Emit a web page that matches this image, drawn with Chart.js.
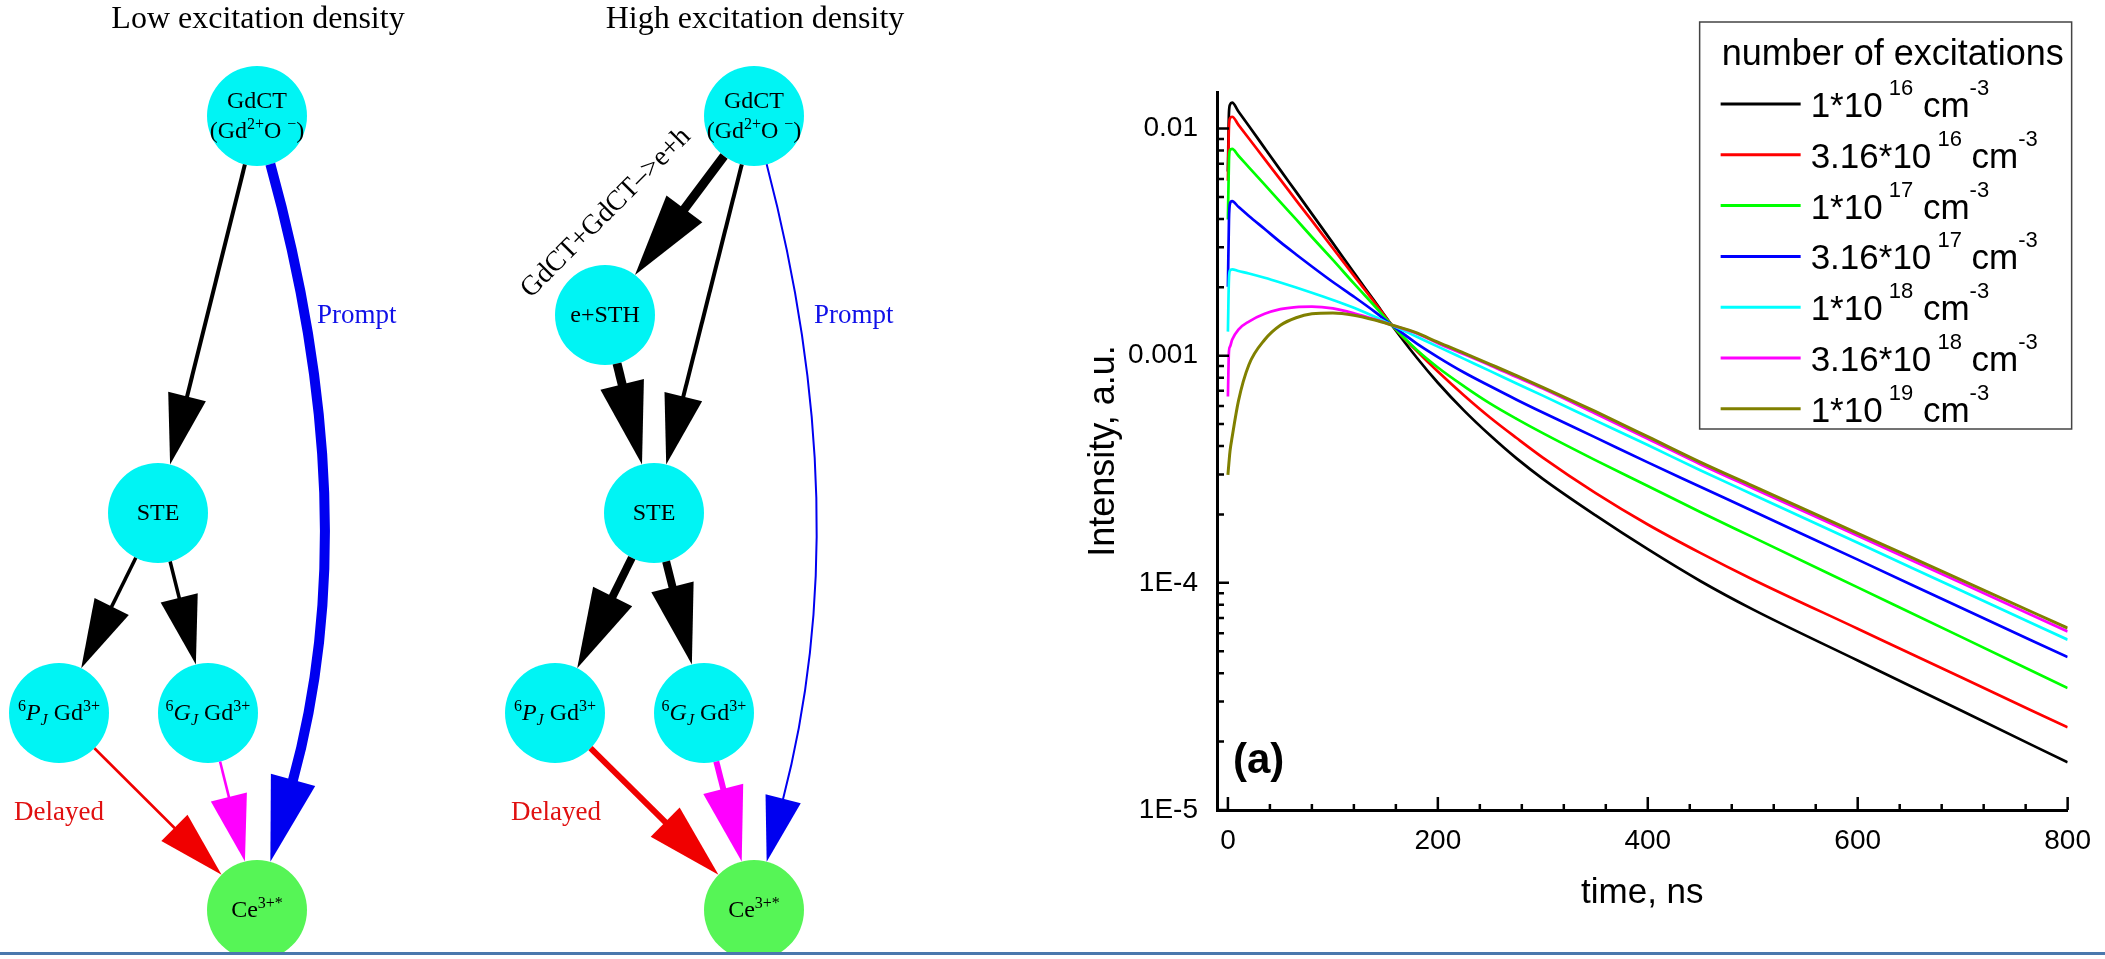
<!DOCTYPE HTML>
<html lang="en">
<head>
  <meta http-equiv="content-type" content="text/html; charset=UTF-8">
  <script src="https://cdn.jsdelivr.net/npm/chart.js"></script>
  <style>
    body { margin: 0; background: #fff; }
    #page { position: relative; width: 2105px; height: 959px; overflow: hidden; background: #fff; }
    #scheme { position: absolute; left: 0; top: 0; }
    #decay { position: absolute; left: 1060px; top: 0; }
    #rule { position: absolute; left: 0; top: 952px; width: 2105px; height: 3px; background: #4a78ad; }
  </style>
</head>

<body>
  <div id="page">
    <canvas id="scheme" width="1060" height="952"></canvas>
    <canvas id="decay" width="1045" height="959"></canvas>
    <div id="rule"></div>
  </div>

  <script>
    // ---------- Decay curves ----------

    const timeNs = [0, 1, 2, 4, 10, 20, 35, 50, 65, 80, 100, 120, 140, 156, 180, 200, 225, 250, 275, 300, 350, 400, 450, 500, 600, 700, 800];

    const i1e16   = [6.46e-3, 1.175e-2, 1.274e-2, 1.300e-2, 1.189e-2, 1.026e-2, 8.20e-3, 6.56e-3, 5.26e-3, 4.21e-3, 3.13e-3, 2.32e-3, 1.73e-3, 1.365e-3, 9.79e-4, 7.60e-4, 5.73e-4, 4.45e-4, 3.53e-4, 2.87e-4, 1.986e-4, 1.406e-4, 1.019e-4, 7.64e-5, 4.55e-5, 2.72e-5, 1.62e-5];
    const i316e16 = [5.89e-3, 1.023e-2, 1.109e-2, 1.127e-2, 1.038e-2, 9.04e-3, 7.33e-3, 5.96e-3, 4.83e-3, 3.93e-3, 2.97e-3, 2.25e-3, 1.71e-3, 1.365e-3, 1.047e-3, 8.51e-4, 6.68e-4, 5.33e-4, 4.34e-4, 3.56e-4, 2.49e-4, 1.807e-4, 1.355e-4, 1.035e-4, 6.28e-5, 3.81e-5, 2.31e-5];
    const i1e17   = [3.98e-3, 7.24e-3, 8.04e-3, 8.13e-3, 7.59e-3, 6.75e-3, 5.66e-3, 4.74e-3, 3.98e-3, 3.33e-3, 2.64e-3, 2.08e-3, 1.65e-3, 1.365e-3, 1.059e-3, 8.87e-4, 7.33e-4, 6.15e-4, 5.27e-4, 4.56e-4, 3.47e-4, 2.67e-4, 2.05e-4, 1.589e-4, 9.55e-5, 5.74e-5, 3.44e-5];
    const i316e17 = [2.01e-3, 3.98e-3, 4.68e-3, 4.79e-3, 4.52e-3, 4.12e-3, 3.61e-3, 3.16e-3, 2.79e-3, 2.47e-3, 2.11e-3, 1.82e-3, 1.56e-3, 1.365e-3, 1.130e-3, 9.86e-4, 8.43e-4, 7.33e-4, 6.40e-4, 5.62e-4, 4.37e-4, 3.39e-4, 2.65e-4, 2.07e-4, 1.265e-4, 7.71e-5, 4.71e-5];
    const i1e18   = [1.276e-3, 2.188e-3, 2.371e-3, 2.399e-3, 2.360e-3, 2.301e-3, 2.203e-3, 2.099e-3, 1.995e-3, 1.892e-3, 1.758e-3, 1.626e-3, 1.483e-3, 1.365e-3, 1.211e-3, 1.096e-3, 9.68e-4, 8.55e-4, 7.55e-4, 6.67e-4, 5.19e-4, 4.04e-4, 3.13e-4, 2.45e-4, 1.50e-4, 9.18e-5, 5.62e-5];
    const i316e18 = [6.61e-4, 1.047e-3, 1.096e-3, 1.175e-3, 1.303e-3, 1.413e-3, 1.528e-3, 1.603e-3, 1.637e-3, 1.644e-3, 1.614e-3, 1.538e-3, 1.445e-3, 1.365e-3, 1.253e-3, 1.135e-3, 1.014e-3, 9.06e-4, 8.05e-4, 7.16e-4, 5.56e-4, 4.31e-4, 3.33e-4, 2.61e-4, 1.611e-4, 9.93e-5, 6.11e-5];
    const i1e19   = [2.99e-4, 3.39e-4, 3.80e-4, 4.37e-4, 6.31e-4, 9.12e-4, 1.175e-3, 1.361e-3, 1.469e-3, 1.528e-3, 1.542e-3, 1.507e-3, 1.435e-3, 1.365e-3, 1.259e-3, 1.146e-3, 1.026e-3, 9.16e-4, 8.17e-4, 7.26e-4, 5.68e-4, 4.40e-4, 3.40e-4, 2.67e-4, 1.652e-4, 1.023e-4, 6.32e-5];

    const seriesValues = [i1e16, i316e16, i1e17, i316e17, i1e18, i316e18, i1e19];
    const seriesMantissa = ['1', '3.16', '1', '3.16', '1', '3.16', '1'];
    const seriesExponent = ['16', '16', '17', '17', '18', '18', '19'];
    const legendTitle = 'number of excitations';

    const xTickValues = [0, 200, 400, 600, 800];
    const yTickValues = [1e-5, 1e-4, 1e-3, 1e-2];
    const yTickLabels = ['1E-5', '1E-4', '0.001', '0.01'];

    // ---------- Scheme (nodes in px of a 1060 x 952 board) ----------

    const lowNodeIds = ['gdct', 'ste', 'pj', 'gj', 'ce'];
    const lowNodeX   = [257, 158, 59, 208, 257];
    const lowNodeY   = [116, 513, 713, 713, 910];
    const lowEdgeFrom  = ['gdct', 'gdct', 'ste', 'ste', 'pj', 'gj'];
    const lowEdgeTo    = ['ste', 'ce', 'pj', 'gj', 'ce', 'ce'];
    const lowEdgeWidth = [4, 10, 3.5, 3.5, 2.6, 2.6];

    const highNodeIds = ['gdct', 'sth', 'ste', 'pj', 'gj', 'ce'];
    const highNodeX   = [754, 605, 654, 555, 704, 754];
    const highNodeY   = [116, 315, 513, 713, 713, 910];
    const highEdgeFrom  = ['gdct', 'gdct', 'gdct', 'sth', 'ste', 'ste', 'pj', 'gj'];
    const highEdgeTo    = ['sth', 'ste', 'ce', 'ste', 'pj', 'gj', 'ce', 'ce'];
    const highEdgeWidth = [9, 4, 2, 9, 8, 8, 6, 6];

    const schemeTitles = ['Low excitation density', 'High excitation density'];
    const nodeLabels = {
      gdct: [[['GdCT', 'n']], [['(Gd', 'n'], ['2+', 'sup'], ['O ', 'n'], ['\u2212', 'sup'], [')', 'n']]],
      ste:  [[['STE', 'n']]],
      sth:  [[['e+STH', 'n']]],
      pj:   [[['6', 'sup'], ['P', 'i'], ['J', 'isub'], [' Gd', 'n'], ['3+', 'sup']]],
      gj:   [[['6', 'sup'], ['G', 'i'], ['J', 'isub'], [' Gd', 'n'], ['3+', 'sup']]],
      ce:   [[['Ce', 'n'], ['3+*', 'sup']]],
    };
    const edgeLabelText = ['Prompt', 'Delayed', 'Prompt', 'Delayed', 'GdCT+GdCT\u2013>e+h'];

    // ---------- Styles ----------

    const SANS = 'Liberation Sans';
    const SERIF = 'Liberation Serif';
    const seriesColors = ['#000000', '#ff0000', '#00ff00', '#0000ff', '#00ffff', '#ff00ff', '#808000'];

    const NODE_R = 50;
    const NODE_CYAN = '#00f4f4';
    const CE_GREEN = '#56f556';
    const lowEdgeColor = ['#000', '#0000f0', '#000', '#000', '#f00000', '#ff00ff'];
    const lowEdgeBend = [0, 110, 0, 0, 0, 0];
    const highEdgeColor = ['#000', '#000', '#0000f0', '#000', '#000', '#000', '#f00000', '#ff00ff'];
    const highEdgeBend = [0, 0, 104, 0, 0, 0, 0, 0];
    // x, baseline, align, rotation(deg), colour, font size
    const edgeLabelPlace = [
      [317, 323, 'left', 0, '#1010e8', 27],
      [14, 820, 'left', 0, '#e01010', 27],
      [814, 323, 'left', 0, '#1010e8', 27],
      [511, 820, 'left', 0, '#e01010', 27],
      [606, 213, 'center', -45, '#000', 28],
    ];

    // ---------- helpers ----------

    function drawRich(ctx, parts, x, baseline, size, family, align, color, sup) {
      const s = sup || { scale: 0.66, rise: 0.38, drop: 0.22 };
      const fontOf = st => {
        const small = st === 'sup' || st === 'isub';
        const px = small ? Math.round(size * s.scale) : size;
        return (st === 'i' || st === 'isub' ? 'italic ' : '') + px + 'px "' + family + '"';
      };
      let total = 0;
      const widths = parts.map(([t, st]) => { ctx.font = fontOf(st); const w = ctx.measureText(t).width; total += w; return w; });
      let cx = align === 'center' ? x - total / 2 : x;
      ctx.fillStyle = color;
      ctx.textAlign = 'left';
      ctx.textBaseline = 'alphabetic';
      parts.forEach(([t, st], k) => {
        ctx.font = fontOf(st);
        const dy = st === 'sup' ? -size * s.rise : st === 'isub' ? size * s.drop : 0;
        ctx.fillText(t, cx, baseline + dy);
        cx += widths[k];
      });
    }

    function toward(p, q, r) {
      const d = Math.hypot(q.x - p.x, q.y - p.y);
      return { x: p.x + (q.x - p.x) / d * r, y: p.y + (q.y - p.y) / d * r };
    }

    function drawArrow(ctx, a, b, w, color, bend) {
      const L = 60 + 2.5 * w, W = 34 + 1.2 * w;
      let ctrl = null, s, e;
      if (bend) {
        const dx = b.x - a.x, dy = b.y - a.y, len = Math.hypot(dx, dy);
        ctrl = { x: (a.x + b.x) / 2 + dy / len * bend, y: (a.y + b.y) / 2 - dx / len * bend };
        s = toward(a, ctrl, NODE_R);
        e = toward(b, ctrl, NODE_R);
      } else {
        s = toward(a, b, NODE_R);
        e = toward(b, a, NODE_R);
      }
      const ref = ctrl || s;
      const hl = Math.hypot(e.x - ref.x, e.y - ref.y);
      const ux = (e.x - ref.x) / hl, uy = (e.y - ref.y) / hl;
      const bx = e.x - ux * L, by = e.y - uy * L;
      ctx.save();
      ctx.strokeStyle = color;
      ctx.fillStyle = color;
      ctx.lineWidth = w;
      ctx.beginPath();
      ctx.moveTo(s.x, s.y);
      if (ctrl) ctx.quadraticCurveTo(ctrl.x, ctrl.y, bx + ux * 2, by + uy * 2);
      else ctx.lineTo(bx + ux * 2, by + uy * 2);
      ctx.stroke();
      ctx.beginPath();
      ctx.moveTo(e.x, e.y);
      ctx.lineTo(bx - uy * W / 2, by + ux * W / 2);
      ctx.lineTo(bx + uy * W / 2, by - ux * W / 2);
      ctx.closePath();
      ctx.fill();
      ctx.restore();
    }

    // ---------- scheme chart ----------

    const graphs = [
      { ids: lowNodeIds, from: lowEdgeFrom, to: lowEdgeTo, width: lowEdgeWidth, color: lowEdgeColor, bend: lowEdgeBend },
      { ids: highNodeIds, from: highEdgeFrom, to: highEdgeTo, width: highEdgeWidth, color: highEdgeColor, bend: highEdgeBend },
    ];

    const schemePlugin = {
      id: 'scheme',
      afterDatasetsDraw(chart) {
        const ctx = chart.ctx;
        const xs = chart.scales.x, ys = chart.scales.y;
        graphs.forEach((g, gi) => {
          const meta = chart.getDatasetMeta(gi);
          const pos = {};
          g.ids.forEach((id, i) => { pos[id] = { x: meta.data[i].x, y: meta.data[i].y }; });
          g.from.forEach((f, k) => drawArrow(ctx, pos[f], pos[g.to[k]], g.width[k], g.color[k], g.bend[k]));
          g.ids.forEach(id => {
            const lines = nodeLabels[id];
            lines.forEach((parts, k) => {
              const base = pos[id].y + 7 + (k - (lines.length - 1) / 2) * 30;
              drawRich(ctx, parts, pos[id].x, base, 24, SERIF, 'center', '#000');
            });
          });
          // panel title above the top node
          ctx.save();
          ctx.fillStyle = '#000';
          ctx.font = '32px "' + SERIF + '"';
          ctx.textAlign = 'center';
          ctx.textBaseline = 'alphabetic';
          ctx.fillText(schemeTitles[gi], pos.gdct.x + 1, ys.getPixelForValue(28));
          ctx.restore();
        });
        edgeLabelText.forEach((t, i) => {
          const [x, y, align, rot, color, size] = edgeLabelPlace[i];
          ctx.save();
          ctx.translate(xs.getPixelForValue(x), ys.getPixelForValue(y));
          ctx.rotate(rot * Math.PI / 180);
          ctx.fillStyle = color;
          ctx.font = size + 'px "' + SERIF + '"';
          ctx.textAlign = align;
          ctx.textBaseline = rot ? 'middle' : 'alphabetic';
          ctx.fillText(t, 0, 0);
          ctx.restore();
        });
      }
    };

    function nodeDataset(ids, xs, ys) {
      return {
        data: ids.map((id, i) => ({ x: xs[i], y: ys[i] })),
        pointRadius: NODE_R,
        pointHoverRadius: NODE_R,
        pointBorderWidth: 0,
        pointBorderColor: 'rgba(0,0,0,0)',
        pointBackgroundColor: ids.map(id => id === 'ce' ? CE_GREEN : NODE_CYAN),
        clip: false,
      };
    }

    new Chart(document.getElementById('scheme'), {
      type: 'scatter',
      data: {
        datasets: [
          nodeDataset(lowNodeIds, lowNodeX, lowNodeY),
          nodeDataset(highNodeIds, highNodeX, highNodeY),
        ],
      },
      options: {
        responsive: false,
        animation: false,
        devicePixelRatio: 1,
        events: [],
        layout: { padding: 0, autoPadding: false },
        plugins: { legend: { display: false }, tooltip: { enabled: false } },
        scales: {
          x: { type: 'linear', min: 0, max: 1060, display: false },
          y: { type: 'linear', min: 0, max: 952, reverse: true, display: false },
        },
      },
      plugins: [schemePlugin],
    });

    // ---------- decay chart ----------

    const innerTicks = {
      id: 'innerTicks',
      afterDatasetsDraw(chart) {
        const { ctx, chartArea: a, scales: { x, y } } = chart;
        ctx.save();
        ctx.strokeStyle = '#000';
        ctx.lineWidth = 2.5;
        ctx.beginPath();
        for (let t = 0; t <= x.max; t += 40) {
          const px = x.getPixelForValue(t);
          const len = xTickValues.includes(t) ? 13 : 6;
          ctx.moveTo(px, a.bottom);
          ctx.lineTo(px, a.bottom - len);
        }
        for (let e = -5; e <= -2; e++) {
          for (let m = 1; m < 10; m++) {
            const v = m * Math.pow(10, e);
            if (v > y.max) break;
            const py = y.getPixelForValue(v);
            ctx.moveTo(a.left, py);
            ctx.lineTo(a.left + (m === 1 ? 12 : 7), py);
          }
        }
        ctx.stroke();
        ctx.restore();
      }
    };

    const legendBox = {
      id: 'legendBox',
      afterDraw(chart) {
        const ctx = chart.ctx, a = chart.chartArea;
        const left = a.right - 368, top = 22, w = 372, h = 407;
        ctx.save();
        ctx.fillStyle = '#fff';
        ctx.fillRect(left, top, w, h);
        ctx.strokeStyle = '#444';
        ctx.lineWidth = 1.5;
        ctx.strokeRect(left, top, w, h);
        ctx.fillStyle = '#000';
        ctx.font = '36px "' + SANS + '"';
        ctx.textAlign = 'left';
        ctx.textBaseline = 'alphabetic';
        ctx.fillText(legendTitle, left + 22, top + 43);
        chart.data.datasets.forEach((ds, i) => {
          const y = top + 82 + i * 50.8;
          ctx.strokeStyle = ds.borderColor;
          ctx.lineWidth = 3;
          ctx.beginPath();
          ctx.moveTo(left + 21, y);
          ctx.lineTo(left + 101, y);
          ctx.stroke();
          drawRich(ctx, ds.legendParts, left + 111, y + 13, 35, SANS, 'left', '#000',
                   { scale: 0.64, rise: 0.63, drop: 0 });
        });
        ctx.restore();
      }
    };

    const panelTag = {
      id: 'panelTag',
      afterDraw(chart) {
        const { ctx, chartArea: a } = chart;
        ctx.save();
        ctx.fillStyle = '#000';
        ctx.font = 'bold 42px "' + SANS + '"';
        ctx.textAlign = 'left';
        ctx.textBaseline = 'alphabetic';
        ctx.fillText('(a)', a.left + 16, a.bottom - 37);
        ctx.restore();
      }
    };

    new Chart(document.getElementById('decay'), {
      type: 'line',
      data: {
        datasets: seriesValues.map((vals, i) => ({
          label: seriesMantissa[i] + '*10^' + seriesExponent[i] + ' cm^-3',
          legendParts: [[seriesMantissa[i] + '*10', 'n'], [' ' + seriesExponent[i], 'sup'], [' cm', 'n'], ['-3', 'sup']],
          data: timeNs.map((t, k) => ({ x: t, y: vals[k] })),
          borderColor: seriesColors[i],
          borderWidth: i === 6 ? 3 : 2.7,
          pointRadius: 0,
          fill: false,
          cubicInterpolationMode: 'monotone',
          order: seriesValues.length - i,
        })),
      },
      options: {
        responsive: false,
        animation: false,
        devicePixelRatio: 1,
        events: [],
        layout: { padding: { top: 92, right: 29, left: 0, bottom: 0 }, autoPadding: false },
        plugins: { legend: { display: false }, tooltip: { enabled: false } },
        scales: {
          x: {
            type: 'linear',
            min: -10.4,
            max: 800,
            grid: { display: false, drawTicks: false },
            border: { display: true, color: '#000', width: 3 },
            ticks: {
              autoSkip: false,
              maxRotation: 0,
              padding: 14,
              color: '#000',
              font: { family: SANS, size: 28 },
            },
            title: {
              display: true,
              text: 'time, ns',
              color: '#000',
              font: { family: SANS, size: 35 },
              padding: { top: 0, bottom: 45 },
            },
            afterBuildTicks: s => { s.ticks = xTickValues.map(v => ({ value: v })); },
            afterFit: s => { s.height = 149; },
          },
          y: {
            type: 'logarithmic',
            min: 1e-5,
            max: 0.01448,
            grid: { display: false, drawTicks: false },
            border: { display: true, color: '#000', width: 3 },
            ticks: {
              autoSkip: false,
              padding: 19,
              color: '#000',
              font: { family: SANS, size: 28 },
              callback: (v, i) => yTickLabels[i],
            },
            title: {
              display: true,
              text: 'Intensity, a.u.',
              color: '#000',
              font: { family: SANS, size: 36 },
              padding: { top: 22, bottom: 0 },
            },
            afterBuildTicks: s => { s.ticks = yTickValues.map(v => ({ value: v })); },
            afterFit: s => { s.width = 157; },
          },
        },
      },
      plugins: [innerTicks, legendBox, panelTag],
    });
  </script>
</body>
</html>
